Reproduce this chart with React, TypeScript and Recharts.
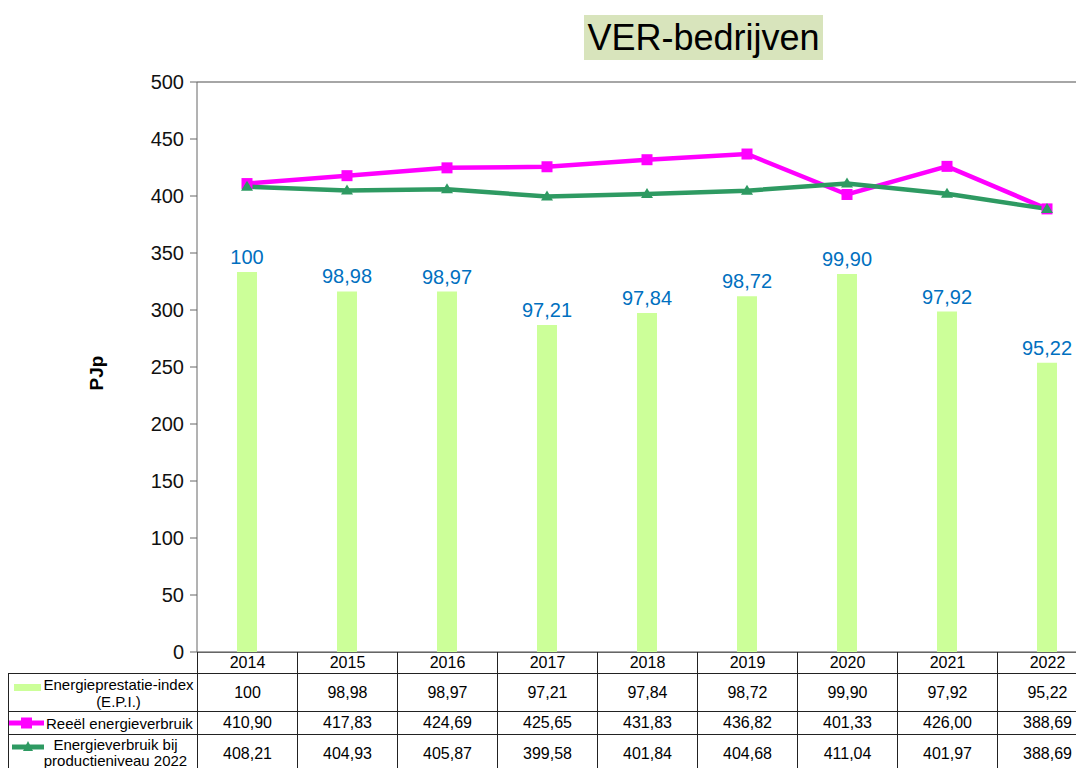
import { ComposedChart, Bar, Line, XAxis, YAxis, CartesianGrid, LabelList, Label } from "recharts";

const years = ["2014", "2015", "2016", "2017", "2018", "2019", "2020", "2021", "2022"];
const epi = [100, 98.98, 98.97, 97.21, 97.84, 98.72, 99.9, 97.92, 95.22];
const reeel = [410.9, 417.83, 424.69, 425.65, 431.83, 436.82, 401.33, 426.0, 388.69];
const productie = [408.21, 404.93, 405.87, 399.58, 401.84, 404.68, 411.04, 401.97, 388.69];
const yTicks = [0, 50, 100, 150, 200, 250, 300, 350, 400, 450, 500];

const data = years.map((y, i) => ({ year: y, epi: epi[i], reeel: reeel[i], productie: productie[i] }));

// index: 100 stays "100", other values get two decimals with a comma
const fmtEpi = (v: number) => (Number.isInteger(v) ? String(v) : v.toFixed(2).replace(".", ","));
const fmt = (v: number) => v.toFixed(2).replace(".", ",");

const MAGENTA = "#FF00FF";
const GREEN = "#2E9A62";
const BAR = "#CCFF99";
const FONT = "Arial, 'Liberation Sans', sans-serif";

function SquareDot(props: any) {
    const { cx, cy } = props;
    return <rect x={cx - 5.5} y={cy - 5.5} width={11} height={11} fill={MAGENTA} />;
}

function TriangleDot(props: any) {
    const { cx, cy } = props;
    return <polygon points={`${cx - 6},${cy + 4} ${cx + 6},${cy + 4} ${cx},${cy - 6}`} fill={GREEN} />;
}

const cell: any = {
    border: "1px solid #222",
    textAlign: "center",
    fontSize: 16,
    padding: 0,
};

export default function App() {
    return (
        <div style={{ position: "relative", width: 1092, height: 760, fontFamily: FONT, overflow: "hidden" }}>
            <div style={{
                position: "absolute", left: 576, top: 7, width: 239, height: 45,
                background: "#D8E4BC", fontSize: 36, lineHeight: "45px", textAlign: "center", color: "#000",
            }}>VER-bedrijven</div>
            <ComposedChart width={1092} height={760} data={data}
                           margin={{ top: 74, right: 3, bottom: 116, left: 0 }}
                           style={{ fontFamily: FONT }}>
                <CartesianGrid vertical={false} stroke="#888" strokeWidth={1.3} />
                <XAxis dataKey="year" height={0} tick={false} tickLine={false} axisLine={{ stroke: "#666" }} />
                <YAxis yAxisId="pj" domain={[0, 500]} ticks={yTicks} width={189} interval={0}
                       tick={{ fill: "#111", fontSize: 20 }} tickSize={7} tickMargin={6}
                       axisLine={{ stroke: "#666" }} tickLine={{ stroke: "#666" }}>
                    <Label value="PJp" angle={-90} position="center" dx={-6} dy={6} fill="#000"
                           style={{ fontSize: 19, fontWeight: "bold" }} />
                </YAxis>
                <YAxis yAxisId="epi" orientation="right" domain={[80, 110]} hide />
                <Bar yAxisId="epi" dataKey="epi" fill={BAR} barSize={20} isAnimationActive={false}>
                    <LabelList dataKey="epi" position="top" offset={8} fill="#0070C0" fontSize={20}
                               formatter={(v: any) => fmtEpi(Number(v))} />
                </Bar>
                <Line yAxisId="pj" dataKey="reeel" stroke={MAGENTA} strokeWidth={4.5} dot={<SquareDot />}
                      activeDot={false} isAnimationActive={false} />
                <Line yAxisId="pj" dataKey="productie" stroke={GREEN} strokeWidth={4.5} dot={<TriangleDot />}
                      activeDot={false} isAnimationActive={false} />
            </ComposedChart>
            <table style={{
                position: "absolute", left: 0, top: 644, borderCollapse: "collapse", tableLayout: "fixed",
                width: 1089, fontFamily: FONT, color: "#000",
            }}>
                <colgroup>
                    <col style={{ width: 189 }} />
                    {years.map(y => <col key={y} style={{ width: 100 }} />)}
                </colgroup>
                <tbody>
                <tr style={{ height: 21 }}>
                    <td style={{ ...cell, border: "none", borderRight: "1px solid #222", borderBottom: "1px solid #222" }} />
                    {years.map(y => <td key={y} style={{ ...cell, borderTop: "1px solid #666" }}>{y}</td>)}
                </tr>
                <tr style={{ height: 38 }}>
                    <td style={{ ...cell, fontSize: 15, lineHeight: "17px" }}>
                        <div style={{ display: "flex", alignItems: "center" }}>
                            <svg width={34} height={10} style={{ marginLeft: 5, marginTop: -12 }}>
                                <rect x={0} y={2} width={27} height={7} fill={BAR} />
                            </svg>
                            <div style={{ flex: 1, textAlign: "center", marginLeft: -8, whiteSpace: "nowrap" }}>Energieprestatie-index<br />(E.P.I.)</div>
                        </div>
                    </td>
                    {epi.map((v, i) => <td key={i} style={cell}>{fmtEpi(v)}</td>)}
                </tr>
                <tr style={{ height: 23 }}>
                    <td style={{ ...cell, fontSize: 15, textAlign: "left" }}>
                        <div style={{ display: "flex", alignItems: "center", whiteSpace: "nowrap" }}>
                            <svg width={36} height={12}>
                                <line x1={0} y1={6} x2={35} y2={6} stroke={MAGENTA} strokeWidth={5} />
                                <rect x={12} y={0.5} width={11} height={11} fill={MAGENTA} />
                            </svg>
                            <span style={{ marginLeft: 1 }}>Reeël energieverbruik</span>
                        </div>
                    </td>
                    {reeel.map((v, i) => <td key={i} style={cell}>{fmt(v)}</td>)}
                </tr>
                <tr style={{ height: 38 }}>
                    <td style={{ ...cell, fontSize: 15, lineHeight: "16px", verticalAlign: "top", paddingTop: 2 }}>
                        <div style={{ display: "flex", alignItems: "center" }}>
                            <svg width={36} height={12} style={{ marginLeft: 3, marginTop: -14 }}>
                                <line x1={0} y1={7} x2={32} y2={7} stroke={GREEN} strokeWidth={5} />
                                <polygon points="11,11 21,11 16,1" fill={GREEN} />
                            </svg>
                            <div style={{ flex: 1, textAlign: "center", marginLeft: -14, whiteSpace: "nowrap" }}>Energieverbruik bij<br />productieniveau 2022</div>
                        </div>
                    </td>
                    {productie.map((v, i) => <td key={i} style={cell}>{fmt(v)}</td>)}
                </tr>
                </tbody>
            </table>
        </div>
    );
}
